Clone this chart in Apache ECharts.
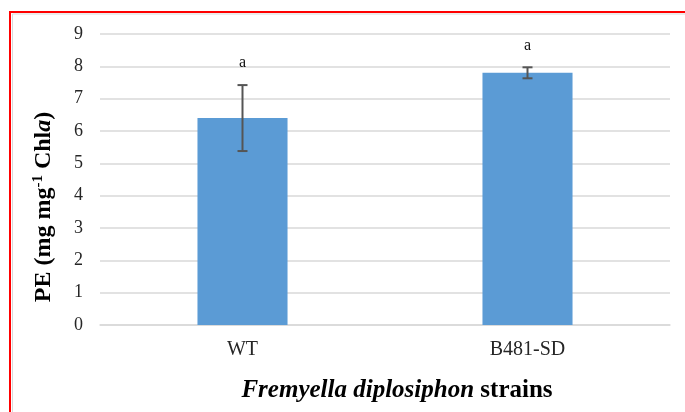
<!DOCTYPE html>
<html>
<head>
<meta charset="utf-8">
<script src="https://cdn.jsdelivr.net/npm/echarts@6/dist/echarts.min.js"></script>
<style>
  html, body { margin: 0; padding: 0; background: #fff; }
  #chart { width: 685px; height: 412px; }
</style>
</head>
<body>
<div id="chart"></div>
<script>
// Phycoerythrin content per strain, with standard deviation and significance letters
const strains = ['WT', 'B481-SD'];
const peMeans = [6.40, 7.80];
const peErrors = [1.02, 0.17];
const sigLetters = ['a', 'a'];

const serif = '"Liberation Serif", "Times New Roman", serif';
const chart = echarts.init(document.getElementById('chart'));

const errorData = strains.map((s, i) => [i, peMeans[i] - peErrors[i], peMeans[i] + peErrors[i], sigLetters[i]]);

chart.setOption({
  animation: false,
  backgroundColor: '#ffffff',
  grid: { left: 100, right: 15, top: 34, bottom: 87 },
  xAxis: {
    type: 'category',
    data: strains,
    axisLine: { lineStyle: { color: '#d9d9d9', width: 1.5 } },
    axisTick: { show: false },
    axisLabel: { color: '#262626', fontFamily: serif, fontSize: 20, margin: 15 }
  },
  yAxis: {
    type: 'value',
    min: 0, max: 9, interval: 1,
    axisLine: { show: false },
    axisTick: { show: false },
    splitLine: { lineStyle: { color: '#d9d9d9', width: 1.5 } },
    axisLabel: { color: '#262626', fontFamily: serif, fontSize: 18, margin: 17 }
  },
  series: [
    {
      type: 'bar',
      data: peMeans,
      barWidth: '31.6%',
      itemStyle: { color: '#5b9bd5' }
    },
    {
      type: 'custom',
      data: errorData,
      z: 10,
      renderItem: function (params, api) {
        const x = api.value(0);
        const lo = api.coord([x, api.value(1)]);
        const hi = api.coord([x, api.value(2)]);
        const cap = 5;
        const stroke = { stroke: '#555555', lineWidth: 2 };
        return {
          type: 'group',
          children: [
            { type: 'line', shape: { x1: hi[0], y1: hi[1], x2: lo[0], y2: lo[1] }, style: stroke },
            { type: 'line', shape: { x1: hi[0] - cap, y1: hi[1], x2: hi[0] + cap, y2: hi[1] }, style: stroke },
            { type: 'line', shape: { x1: lo[0] - cap, y1: lo[1], x2: lo[0] + cap, y2: lo[1] }, style: stroke },
            {
              type: 'text',
              style: {
                text: api.value(3),
                x: hi[0], y: hi[1] - 22,
                align: 'center', verticalAlign: 'middle',
                fontFamily: serif, fontSize: 16, fill: '#111111'
              }
            }
          ]
        };
      }
    }
  ],
  graphic: [
    {
      type: 'text',
      rotation: Math.PI / 2,
      x: 44, y: 207,
      style: {
        text: '{b|PE (mg mg}{sup|-1}{b| Chl}{bi|a}{b|)}',
        align: 'center', verticalAlign: 'middle',
        rich: {
          b: { fontFamily: serif, fontSize: 24, fontWeight: 'bold', fill: '#000' },
          bi: { fontFamily: serif, fontSize: 24, fontWeight: 'bold', fontStyle: 'italic', fill: '#000' },
          sup: { fontFamily: serif, fontSize: 15, fontWeight: 'bold', fill: '#000', verticalAlign: 'top', padding: [0, 0, 12, 0] }
        }
      }
    },
    {
      type: 'text',
      x: 397, y: 391,
      style: {
        text: '{i|Fremyella diplosiphon}{b| strains}',
        align: 'center', verticalAlign: 'middle',
        rich: {
          i: { fontFamily: serif, fontSize: 25, fontWeight: 'bold', fontStyle: 'italic', fill: '#000' },
          b: { fontFamily: serif, fontSize: 25, fontWeight: 'bold', fill: '#000' }
        }
      }
    },
    {
      type: 'rect',
      shape: { x: 12.5, y: 14, width: 700, height: 420 },
      style: { fill: 'none', stroke: '#d9d9d9', lineWidth: 1 }
    },
    {
      type: 'rect',
      shape: { x: 10, y: 12, width: 700, height: 420 },
      style: { fill: 'none', stroke: '#ff0000', lineWidth: 2 }
    }
  ]
});
</script>
</body>
</html>
